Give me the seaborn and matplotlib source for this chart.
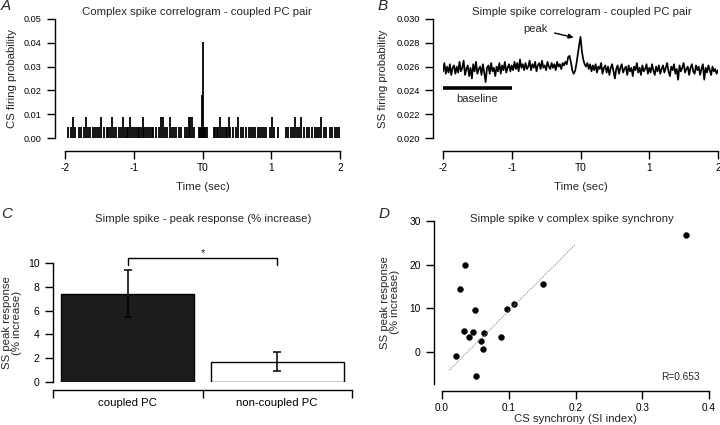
import numpy as np
import matplotlib
matplotlib.use("Agg")
import matplotlib.pyplot as plt
import seaborn as sns

# ---- data ----
# A: complex spike correlogram, bins with one / two spikes, plus the central peak
cs_single = [-1.95, -1.92, -1.85, -1.79, -1.77, -1.73, -1.66, -1.63, -1.60, -1.56,
             -1.53, -1.50, -1.44, -1.39, -1.37, -1.35, -1.29, -1.26, -1.22, -1.19,
             -1.13, -1.10, -1.08, -1.02, -0.99, -0.97, -0.94, -0.92, -0.89, -0.85,
             -0.82, -0.80, -0.77, -0.74, -0.72, -0.67, -0.63, -0.55, -0.52, -0.45,
             -0.41, -0.38, -0.34, -0.31, -0.25, -0.23, -0.12, -0.05, -0.04, -0.02,
             0.01, 0.03, 0.04, 0.06, 0.16, 0.18, 0.21, 0.23, 0.29, 0.31,
             0.34, 0.36, 0.40, 0.45, 0.48, 0.56, 0.59, 0.63, 0.67, 0.70,
             0.73, 0.76, 0.80, 0.83, 0.86, 0.89, 0.92, 0.98, 1.04, 1.10,
             1.22, 1.25, 1.28, 1.31, 1.37, 1.40, 1.47, 1.52, 1.55, 1.59,
             1.64, 1.66, 1.69, 1.76, 1.79, 1.85, 1.89, 1.93, 1.96, 1.99]
cs_double = [-1.89, -1.69, -1.47, -1.32, -1.15, -1.05, -0.87, -0.60, -0.57, -0.47,
             -0.20, -0.18, -0.15, 0.26, 0.38, 0.52, 1.01, 1.34, 1.43, 1.73]
cs_peak_t = [-0.01, 0.0]
cs_peak_n = [4, 9]
cs_prob_per_spike = 0.0045

# B: simple spike correlogram (x 1e-3), one value every 20 ms from -2 to 2 s
ss_prob_e3 = [
    25.6, 26.3, 25.4, 26.0, 25.5, 26.2, 25.3, 25.9, 26.1, 25.4,
    26.0, 25.5, 26.4, 25.6, 25.9, 26.5, 25.3, 25.8, 26.1, 25.2,
    25.9, 25.0, 26.2, 25.6, 26.4, 25.4, 25.8, 26.0, 25.3, 26.2,
    25.5, 24.7, 25.9, 26.1, 25.4, 26.3, 25.6, 25.9, 25.2, 26.0,
    25.6, 26.3, 25.4, 26.1, 25.7, 26.4, 25.5, 25.9, 26.2, 25.6,
    26.1, 25.7, 26.4, 25.8, 26.3, 25.6, 26.6, 25.9, 26.2, 25.7,
    26.3, 25.8, 26.0, 26.5, 25.7, 26.2, 25.9, 26.4, 25.6, 26.1,
    26.3, 25.8, 26.5, 25.9, 26.1, 25.7, 26.4, 26.0, 25.8, 26.3,
    25.9, 26.2, 25.7, 26.4, 26.0, 26.2, 25.8, 26.3, 26.1, 26.4,
    26.2, 26.8, 26.9, 26.4, 25.7, 25.4, 25.6, 26.2, 27.0, 27.8,
    28.5, 27.3, 26.6, 26.2, 26.0, 26.3, 25.8, 26.2, 25.6, 26.1,
    25.7, 26.2, 25.5, 26.0, 25.8, 26.3, 25.4, 25.9, 26.1, 25.5,
    26.0, 25.3, 25.9, 26.2, 25.6, 25.0, 25.8, 26.1, 25.4, 25.9,
    26.2, 25.5, 25.8, 26.0, 25.3, 26.1, 25.6, 25.9, 25.2, 26.0,
    25.7, 26.3, 25.5, 25.9, 25.3, 26.1, 25.6, 25.8, 26.2, 25.4,
    25.9, 25.5, 26.2, 25.7, 25.3, 26.0, 25.6, 26.1, 25.4, 25.8,
    26.1, 25.5, 25.9, 26.3, 25.6, 25.2, 26.0, 25.7, 26.2, 25.4,
    25.8, 24.9, 26.1, 25.6, 25.9, 26.3, 25.5, 25.8, 26.0, 25.3,
    25.9, 26.2, 25.6, 25.4, 26.1, 25.7, 26.0, 25.3, 25.8, 26.2,
    24.9, 25.9, 25.5, 26.1, 25.7, 25.3, 26.0, 25.6, 25.8, 25.4,
    25.7]
ss_time = np.linspace(-2, 2, len(ss_prob_e3))
baseline_span = [-2.0, -1.0]
baseline_level = 0.0242

# C: peak response bars
groups = ["coupled PC", "non-coupled PC"]
peak_mean = [7.4, 1.65]
peak_lo = [5.5, 0.9]
peak_hi = [9.4, 2.5]

# D: SS response vs CS synchrony
si_index = [0.021, 0.027, 0.034, 0.033, 0.041, 0.047, 0.049, 0.051,
            0.058, 0.063, 0.062, 0.089, 0.098, 0.108, 0.151, 0.366]
ss_resp = [-0.9, 14.4, 19.8, 4.7, 3.4, 4.5, 9.5, -5.5,
           2.5, 4.3, 0.6, 3.4, 9.9, 10.9, 15.6, 26.9]
fit_x = [0.011, 0.199]
fit_slope, fit_icpt = 152.7, -5.9
r_value = 0.653

# ---- style ----
sns.set_style("ticks")
plt.rcParams["font.family"] = ["Liberation Sans", "DejaVu Sans"]
plt.rcParams["axes.linewidth"] = 1.0
plt.rcParams["xtick.major.width"] = 1.0
plt.rcParams["ytick.major.width"] = 1.0
plt.rcParams["xtick.color"] = "black"
plt.rcParams["ytick.color"] = "black"
plt.rcParams["axes.edgecolor"] = "black"

W, H = 720, 425
fig = plt.figure(figsize=(W / 100, H / 100), dpi=100)


def rect(x0, x1, ytop, ybot):
    return [x0 / W, 1 - ybot / H, (x1 - x0) / W, (ybot - ytop) / H]


def r_axes(ax, left_px, bottom_px, tick_len=6):
    # R-like axes: only left/bottom, pulled away from the data
    sns.despine(ax=ax)
    ax.spines["left"].set_position(("outward", left_px * 0.72))
    ax.spines["bottom"].set_position(("outward", bottom_px * 0.72))
    ax.tick_params(length=tick_len, direction="out")
    ax.tick_params(axis="x", pad=2.5)
    ax.tick_params(axis="y", pad=3.6)


def ptxt(x, y, s, **kw):
    fig.text(x / W, 1 - y / H, s, ha="center", va="center", **kw)


# ---- A ----
axA = fig.add_axes(rect(65, 340, 19, 138))
r_axes(axA, 10, 13)
times = np.array(cs_single + cs_double + cs_peak_t)
counts = np.array([1] * len(cs_single) + [2] * len(cs_double) + cs_peak_n)
axA.vlines(times, 0, counts * cs_prob_per_spike, color="black", lw=1.3)
axA.set_xlim(-2, 2)
axA.set_ylim(0, 0.05)
axA.set_yticks([0, 0.01, 0.02, 0.03, 0.04, 0.05])
axA.set_yticklabels(["0.00", "0.01", "0.02", "0.03", "0.04", "0.05"], fontsize=6.6)
axA.set_xticks([-2, -1, 0, 1, 2])
axA.set_xticklabels(["-2", "-1", "T0", "1", "2"], fontsize=7.3)
axA.set_xlabel("Time (sec)", fontsize=8.2, va="center")
axA.xaxis.set_label_coords(0.5, -0.41)
axA.set_ylabel("CS firing probability", fontsize=8.2, va="center")
axA.yaxis.set_label_coords(-0.193, 0.5)

# ---- B ----
axB = fig.add_axes(rect(443, 718, 19, 138))
r_axes(axB, 10, 13)
sns.lineplot(x=ss_time, y=np.array(ss_prob_e3) / 1e3, ax=axB, color="black",
             linewidth=1.25)
axB.plot(baseline_span, [baseline_level] * 2, color="black", lw=2.6,
         solid_capstyle="butt", clip_on=False)
axB.text(np.mean(baseline_span), 0.02327, "baseline", ha="center", va="center", fontsize=8)
axB.annotate("peak", xy=(-0.10, 0.02845), xytext=(-0.66, 0.0292), fontsize=8,
             ha="center", va="center",
             arrowprops=dict(arrowstyle="-|>", color="black", lw=1.0,
                             mutation_scale=7, shrinkA=3, shrinkB=0))
axB.set_xlim(-2, 2)
axB.set_ylim(0.02, 0.03)
axB.set_yticks([0.020, 0.022, 0.024, 0.026, 0.028, 0.030])
axB.set_yticklabels(["0.020", "0.022", "0.024", "0.026", "0.028", "0.030"], fontsize=6.7)
axB.set_xticks([-2, -1, 0, 1, 2])
axB.set_xticklabels(["-2", "-1", "T0", "1", "2"], fontsize=7.3)
axB.set_xlabel("Time (sec)", fontsize=8.2, va="center")
axB.xaxis.set_label_coords(0.5, -0.41)
axB.set_ylabel("SS firing probability", fontsize=8.2, va="center")
axB.yaxis.set_label_coords(-0.218, 0.5)

# ---- C ----
axC = fig.add_axes(rect(53, 352, 263, 382))
r_axes(axC, 0, 8)
sns.barplot(x=groups, y=peak_mean, hue=groups, palette=["#1c1c1c", "white"],
            edgecolor="black", linewidth=1.0, width=0.89, legend=False, ax=axC)
err = [np.array(peak_mean) - np.array(peak_lo), np.array(peak_hi) - np.array(peak_mean)]
axC.errorbar([0, 1], peak_mean, yerr=err, fmt="none", ecolor="black",
             elinewidth=1.1, capsize=3.2, capthick=1.1)
axC.plot([0, 0, 1, 1], [9.85, 10.4, 10.4, 9.85], color="black", lw=1.0, clip_on=False)
axC.text(0.5, 10.85, "*", ha="center", va="center", fontsize=8)
axC.set_xlim(-0.5, 1.5)
axC.set_ylim(0, 10)
axC.set_yticks([0, 2, 4, 6, 8, 10])
axC.set_yticklabels(["0", "2", "4", "6", "8", "10"], fontsize=7.5)
axC.set_xticks([-0.5, 0.5, 1.5])
axC.set_xticklabels([])
axC.set_xticks([0, 1], minor=True)
axC.set_xticklabels(groups, minor=True, fontsize=8.2)
axC.tick_params(axis="x", which="minor", length=0, pad=6)
axC.set_xlabel("")
axC.set_ylabel("SS peak response\n(% increase)", fontsize=8.2, va="center", linespacing=1.0)
axC.yaxis.set_label_coords(-0.137, 0.5)

# ---- D ----
axD = fig.add_axes(rect(442, 709, 221, 383.5))
r_axes(axD, 8, 7.5)
sns.scatterplot(x=si_index, y=ss_resp, ax=axD, color="black", s=18, edgecolor="black",
                linewidth=0.3)
fx = np.array(fit_x)
axD.plot(fx, fit_slope * fx + fit_icpt, color="#888888", lw=0.8, ls=(0, (1, 1.2)))
axD.text(0.386, -5.7, f"R={r_value}", ha="right", va="center", fontsize=7.3)
axD.set_xlim(0, 0.4)
axD.set_ylim(-7.3, 30)
axD.set_xticks([0, 0.1, 0.2, 0.3, 0.4])
axD.set_xticklabels(["0.0", "0.1", "0.2", "0.3", "0.4"], fontsize=7.2)
axD.set_yticks([0, 10, 20, 30])
axD.set_yticklabels(["0", "10", "20", "30"], fontsize=7.4)
axD.set_xlabel("CS synchrony (SI index)", fontsize=8.2, va="center")
axD.xaxis.set_label_coords(0.5, -0.22)
axD.set_ylabel("SS peak response\n(% increase)", fontsize=8.2, va="center", linespacing=1.0)
axD.yaxis.set_label_coords(-0.195, 0.5)

# ---- titles and panel letters ----
ptxt(197, 12, "Complex spike correlogram - coupled PC pair", fontsize=8.2)
ptxt(582, 12, "Simple spike correlogram - coupled PC pair", fontsize=8.2)
ptxt(203, 219, "Simple spike - peak response (% increase)", fontsize=8.2)
ptxt(572, 219, "Simple spike v complex spike synchrony", fontsize=8.2)
for x, y, s in [(6, 6, "A"), (383, 6, "B"), (7, 214, "C"), (384, 214, "D")]:
    ptxt(x, y, s, fontsize=11, style="italic")

fig.savefig("out.png", dpi=100)
